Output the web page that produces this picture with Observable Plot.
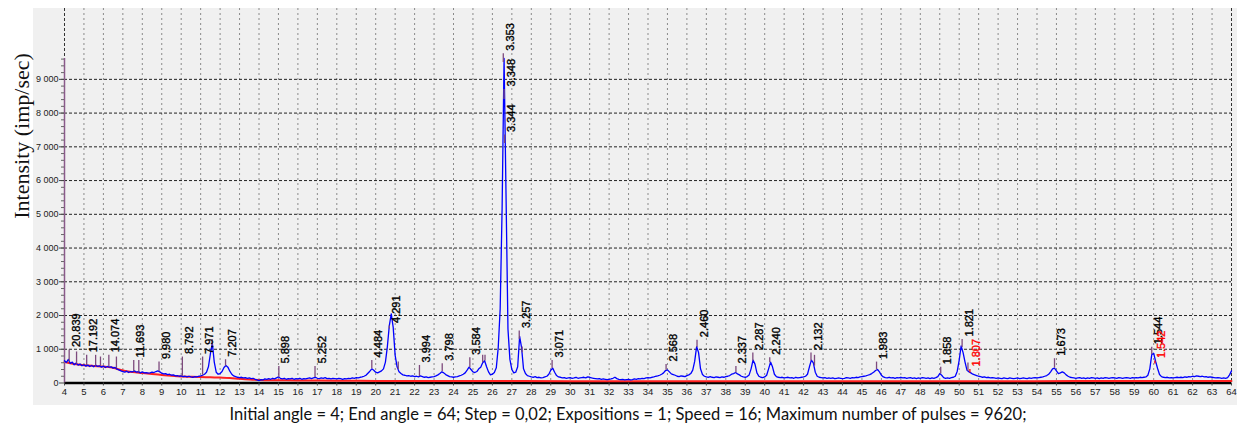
<!DOCTYPE html>
<html>
<head>
<meta charset="utf-8">
<script src="https://cdn.jsdelivr.net/npm/d3@7"></script>
<script src="https://cdn.jsdelivr.net/npm/@observablehq/plot@0.6"></script>
<style>
  html, body { margin: 0; padding: 0; background: #fff; }
  #wrap { position: relative; width: 1237px; height: 425px; overflow: hidden; }
  #bg { position: absolute; left: 33px; top: 8px; width: 1204px; height: 397px; background: #f0f0f0; }
  #chart { position: absolute; left: 0; top: 0; }
  #cap { position: absolute; left: 0; top: 404px; width: 1256px; text-align: center;
         font-family: Lato, "Open Sans", sans-serif; font-size: 16.5px; line-height: 20px; color: #111; }
</style>
</head>
<body>
<div id="wrap">
  <div id="bg"></div>
  <div id="chart"></div>
  <div id="cap">Initial angle = 4; End angle = 64; Step = 0,02; Expositions = 1; Speed = 16; Maximum number of pulses = 9620;</div>
</div>
<script>
// ---- scan (blue) at 0.1° spacing from 4° to 64° ----
const scanStart = 4;
const scanStep = 0.1;
const scanCounts = [
  660,610,700,580,620,540,590,530,560,510,   // 4
  540,500,530,490,520,480,530,490,510,470,   // 5
  500,460,490,470,480,440,460,410,390,360,   // 6
  340,320,350,310,340,330,360,320,340,300,   // 7
  330,300,310,290,300,320,310,340,360,330,   // 8
  290,270,280,250,260,230,240,210,220,200,   // 9
  210,190,200,180,200,180,170,190,180,200,   // 10
  210,230,260,320,480,860,1180,620,320,260,  // 11
  280,340,460,520,470,350,260,210,190,170,   // 12
  160,170,150,160,140,150,130,140,110,90,    // 13
  70,100,90,120,110,130,110,140,120,150,     // 14
  180,140,120,140,110,130,120,140,110,130,   // 15
  120,140,110,130,120,140,150,130,150,170,   // 16
  140,130,150,140,160,130,140,120,140,130,   // 17
  120,140,130,110,130,120,140,130,150,140,   // 18
  160,150,170,180,200,230,290,350,420,380,   // 19
  320,300,330,360,420,620,1080,1700,2050,1650, // 20
  820,480,330,280,240,230,210,220,200,210,   // 21
  190,200,180,210,190,170,180,160,170,180,   // 22
  190,210,240,280,330,300,250,220,190,180,   // 23
  170,180,190,210,230,260,300,380,470,400,   // 24
  330,310,340,420,470,600,660,480,330,240,   // 25
  260,310,450,1050,2200,5200,9620,5600,1600,700, // 26
  400,300,320,480,1380,1050,420,280,220,200, // 27
  180,170,190,160,170,150,160,180,200,260,   // 28
  380,440,320,220,180,170,150,160,140,150,   // 29
  160,140,150,170,140,150,160,170,150,180,   // 30
  170,150,140,130,120,130,110,120,110,100,   // 31
  110,120,140,170,130,110,100,110,90,100,    // 32
  110,90,100,120,110,130,120,140,130,150,    // 33
  160,150,170,180,200,210,230,260,300,370,   // 34
  390,330,270,250,230,200,190,210,200,190,   // 35
  220,240,280,380,640,1080,900,420,250,200,  // 36
  180,170,190,170,160,180,170,160,180,170,   // 37
  190,200,220,260,280,310,270,240,200,180,   // 38
  170,190,240,420,680,560,300,200,170,160,   // 39
  180,230,420,620,480,260,190,170,160,170,   // 40
  150,160,170,150,160,140,170,150,160,170,   // 41
  180,200,260,480,680,600,320,200,170,160,   // 42
  150,160,140,150,140,150,130,140,150,140,   // 43
  130,140,160,150,140,160,150,170,160,180,   // 44
  190,200,210,230,250,280,320,370,400,330,   // 45
  230,180,160,150,170,150,160,140,160,150,   // 46
  170,150,160,140,150,160,140,150,130,150,   // 47
  140,160,150,140,150,130,150,140,160,190,   // 48
  280,230,160,140,150,140,160,170,200,350,   // 49
  680,1100,900,620,380,330,300,260,240,220,  // 50
  200,190,170,180,160,170,150,160,150,140,   // 51
  150,140,130,150,140,130,150,140,130,140,   // 52
  150,130,140,150,140,130,150,140,150,160,   // 53
  150,160,170,180,200,220,260,330,420,440,   // 54
  360,280,300,330,300,240,200,170,160,150,   // 55
  140,150,160,140,150,130,150,140,160,150,   // 56
  140,150,130,150,140,160,150,140,150,160,   // 57
  150,140,160,150,140,150,160,150,140,160,   // 58
  150,160,150,170,160,170,180,230,420,840,   // 59
  880,640,430,250,190,170,160,170,150,160,   // 60
  150,160,170,160,170,160,180,170,190,180,   // 61
  200,190,210,200,190,200,180,190,170,180,   // 62
  170,160,150,160,150,140,150,140,160,240,   // 63
  360                                        // 64
];

// ---- fitted background (red) ----
const bgAngle  = [4, 4.5, 5, 5.5, 6, 6.5, 7, 7.5, 8, 8.5, 9, 9.5, 10, 10.5, 11, 11.5, 12, 12.5, 13, 13.5, 14, 15, 16, 18, 20, 25, 30, 40, 50, 56, 64];
const bgCounts = [620, 560, 525, 505, 490, 450, 370, 325, 295, 265, 240, 215, 195, 185, 175, 168, 160, 150, 125, 105, 92, 82, 75, 68, 62, 58, 55, 52, 52, 58, 62];

// ---- peak sticks and d-spacing labels ----
const peakAngle = [4.24, 4.62, 5.14, 5.60, 5.85, 6.28, 6.67, 7.56, 7.82, 8.86, 10.06, 11.10, 11.59, 12.28, 15.02, 16.88,
                   19.80, 20.70, 21.16, 22.25, 23.42, 24.84, 25.50, 25.62, 26.56, 26.60, 26.63, 27.38, 27.53, 29.07,
                   34.93, 36.52, 38.52, 39.39, 40.26, 42.38, 42.56, 45.75, 49.05, 50.15, 50.45, 50.55, 54.90, 59.90, 60.06];
const peakTop   = [980, 920, 820, 820, 770, 820, 770, 670, 670, 620, 770, 770, 1290, 690, 490, 490,
                   670, 1690, 620, 520, 570, 750, 820, 820, 9760, 8700, 7350, 1540, 1070, 670,
                   550, 1270, 490, 890, 750, 890, 820, 620, 470, 1290, 590, 400, 720, 1060, 650];
const peakBase  = [620, 560, 520, 500, 490, 480, 430, 330, 320, 330, 200, 230, 1100, 500, 160, 160,
                   420, 1600, 400, 190, 330, 450, 600, 650, 9500, 8400, 7100, 1300, 900, 430,
                   380, 1050, 300, 650, 600, 650, 500, 390, 270, 1050, 350, 300, 440, 840, 560];
const peakLabel = ["20.839", "", "17.192", "", "", "14.074", "", "11.693", "", "9.980", "8.792", "7.971", "", "7.207", "5.898", "5.252",
                   "4.484", "4.291", "", "3.994", "3.798", "3.584", "", "", "3.353", "3.348", "3.344", "3.257", "", "3.071",
                   "2.568", "2.460", "2.337", "2.287", "2.240", "2.132", "", "1.983", "1.858", "1.821", "", "1.807", "1.673", "1.544", "1.542"];
const peakKind  = ["k","p","k","p","p","k","p","k","p","k","k","k","p","k","k","k",
                   "k","k","p","k","k","k","p","p","k","k","k","k","p","k",
                   "k","k","k","k","k","k","p","k","k","k","p","r","k","k","r"];

// ---- axis ticks ----
const xTicks = d3.range(4, 65, 1);
const yTicks = d3.range(0, 9001, 1000);
const yMinorTicks = d3.range(200, 9601, 200);
const yGrid = d3.range(1000, 9001, 1000);
const maxPulses = 9620;

const scan = scanCounts.map((c, i) => ({angle: scanStart + i * scanStep, counts: c}));
const background = bgAngle.map((a, i) => ({angle: a, counts: bgCounts[i]}));
const peaks = peakAngle.map((a, i) => ({angle: a, top: peakTop[i], base: peakBase[i], label: peakLabel[i], kind: peakKind[i]}));
const labelled = peaks.filter(p => p.label !== "");

const fmt = d => d === 0 ? "0" : d3.format(",")(d).replace(/,/g, " ");

const chart = Plot.plot({
  width: 1237,
  height: 405,
  marginLeft: 64,
  marginRight: 6,
  marginTop: 8,
  marginBottom: 22.5,
  style: {background: "transparent", fontFamily: "'Liberation Sans', Arial, sans-serif", fontSize: "9px", color: "#222"},
  x: {domain: [4, 64], axis: null},
  y: {domain: [0, 11100], axis: null},
  marks: [
    Plot.gridX({ticks: d3.range(5, 64, 1), stroke: "#8a8a8a", strokeOpacity: 1, strokeDasharray: "2,3"}),
    Plot.gridX({ticks: [4, 64], stroke: "#333", strokeOpacity: 1, strokeDasharray: "3,2"}),
    Plot.gridY({ticks: yGrid, stroke: "#222", strokeOpacity: 1, strokeDasharray: "3,2"}),
    Plot.ruleY([0], {stroke: "#000", strokeWidth: 2.5}),
    Plot.line(background, {x: "angle", y: "counts", stroke: "#ff2020", strokeWidth: 2, curve: "monotone-x"}),
    Plot.ruleX([4], {y1: 0, y2: maxPulses, stroke: "#8a5a8a", strokeWidth: 1.5}),
    Plot.line(scan, {x: "angle", y: "counts", stroke: "#0000ff", strokeWidth: 1.3}),
    Plot.ruleX(peaks, {x: "angle", y1: "base", y2: "top", stroke: d => d.kind === "r" ? "#ff0000" : "#7d4a7d", strokeWidth: 1.3}),
    Plot.text(labelled, {x: "angle", y: "top", text: "label", rotate: -90, textAnchor: "start", dx: 7, dy: -3,
      fontSize: 11, fill: d => d.kind === "r" ? "#ff0000" : "#000",
      stroke: d => d.kind === "r" ? "#ff0000" : "#000", strokeWidth: 0.35}),
    Plot.axisX({ticks: xTicks, tickSize: 3, tickPadding: 2, fontSize: 9.5, stroke: "#444", label: null}),
    Plot.axisY({ticks: yMinorTicks, tickSize: 3, tickFormat: () => "", stroke: "#666", label: null}),
    Plot.axisY({ticks: yTicks, tickSize: 5, tickPadding: 1, tickFormat: fmt, fontSize: 9, stroke: "#444", label: null}),
    Plot.text(["Intensity (imp/sec)"], {frameAnchor: "left", dx: -43, dy: 23, rotate: -90,
      fontSize: 22, fontFamily: "'Liberation Serif', 'Times New Roman', serif", fill: "#111"})
  ]
});
document.getElementById("chart").appendChild(chart);
</script>
</body>
</html>
